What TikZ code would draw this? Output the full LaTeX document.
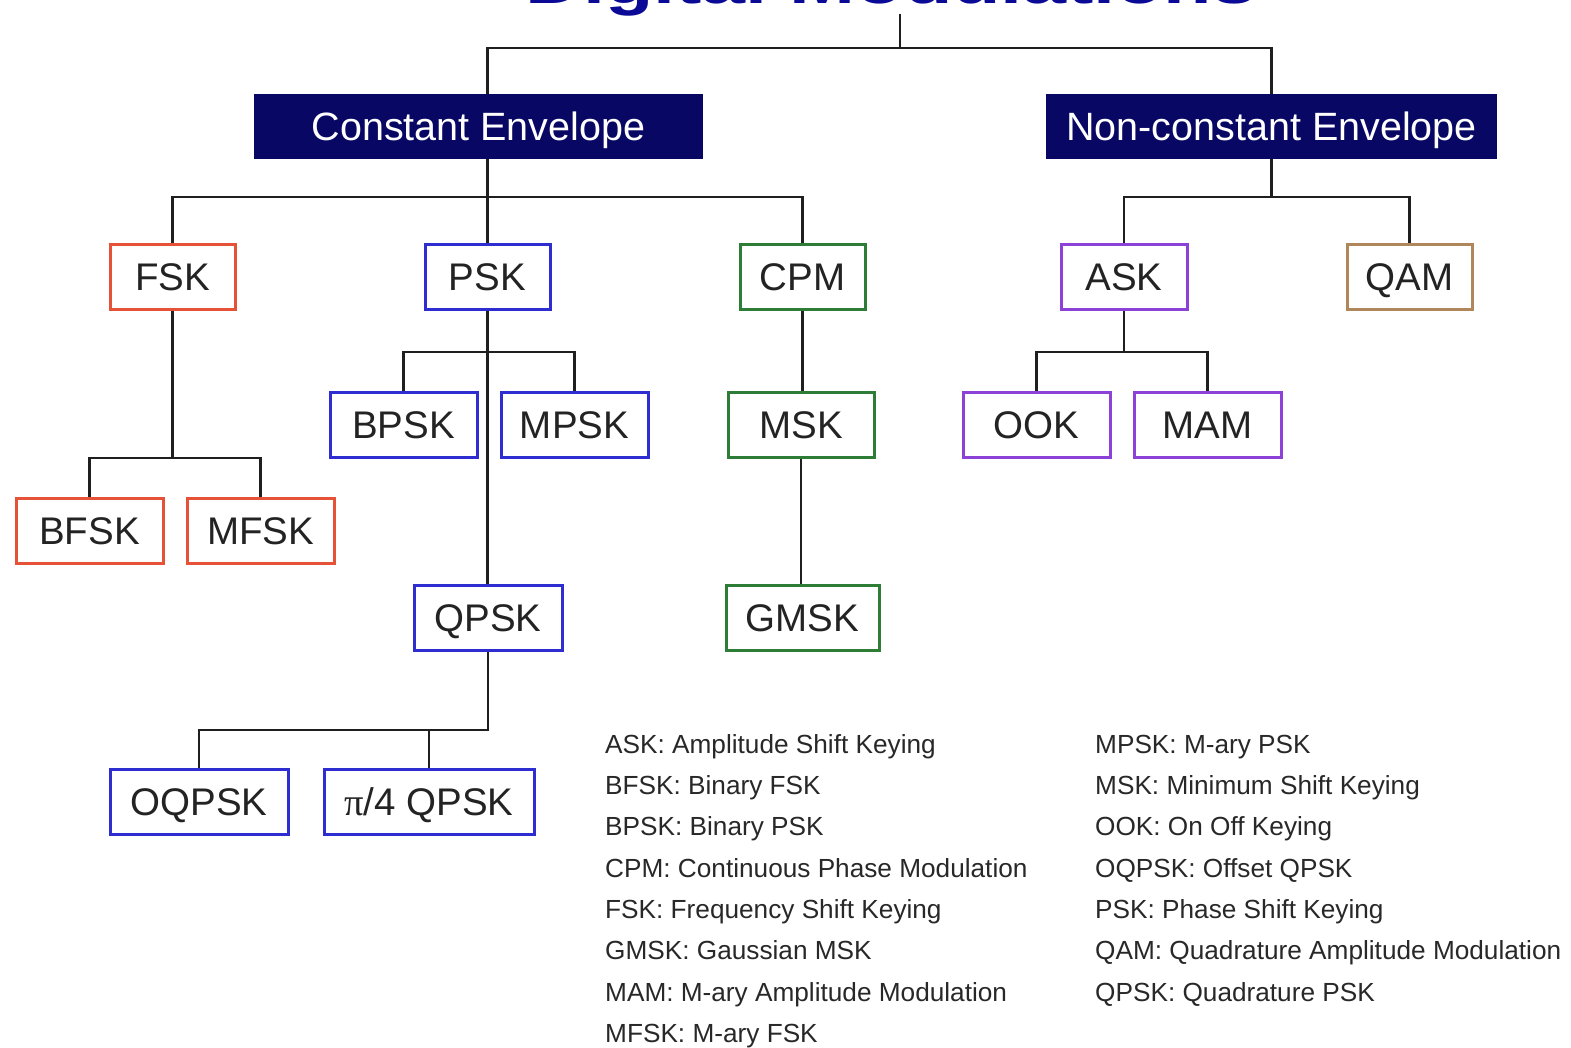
\documentclass[tikz,border=0pt]{standalone}
\usepackage{fontspec}
\setmainfont{Liberation Sans}
\newfontfamily\serifpi{Liberation Serif}
\definecolor{navy}{RGB}{8,8,100}
\definecolor{titleblue}{RGB}{10,10,150}
\definecolor{cred}{RGB}{230,82,56}
\definecolor{cblue}{RGB}{45,45,210}
\definecolor{cgreen}{RGB}{45,125,55}
\definecolor{cpurple}{RGB}{140,65,215}
\definecolor{ctan}{RGB}{175,135,90}
\definecolor{txt}{RGB}{35,35,35}
\definecolor{legtxt}{RGB}{40,40,40}
\begin{document}
\begin{tikzpicture}[x=1pt,y=-1pt,
  mbox/.style={draw, line width=3pt, minimum height=65pt, inner sep=0pt, text=txt, fill=white, text height=27.6pt, text depth=0pt, font=\fontsize{38.5}{40}\selectfont},
  envbox/.style={fill=navy, draw=none, minimum height=65pt, inner sep=0pt, text=white, text height=28.3pt, text depth=0pt, font=\fontsize{39.5}{42}\selectfont},
  conn/.style={line width=2.5pt, black!88},
  legend/.style={anchor=base west, inner sep=0pt, text=legtxt, font=\fontsize{26.2}{28}\selectfont}]
\fill[white] (0,0) rectangle (1571,1048);
\useasboundingbox (0,0) rectangle (1571,1048);

% title (cut off by the page edge, as in the reference)
\node[anchor=base, inner sep=0pt, xscale=1.32, text=titleblue, font=\bfseries\fontsize{60}{62}\selectfont] (title) at (891,3.5) {Digital Modulations};
\coordinate (root) at (900,14);

% envelope boxes
\node[envbox, minimum width=449pt] (CE) at (478.5,126.5) {Constant Envelope};
\node[envbox, minimum width=451pt] (NCE) at (1271.5,126.5) {Non-constant Envelope};

% first row
\node[mbox, draw=cred, minimum width=125pt] (FSK) at (172.5,277) {FSK};
\node[mbox, draw=cblue, minimum width=125pt] (PSK) at (487.5,277) {PSK};
\node[mbox, draw=cgreen, minimum width=125pt] (CPM) at (802.5,277) {CPM};
\node[mbox, draw=cpurple, minimum width=126pt] (ASK) at (1124,277) {ASK};
\node[mbox, draw=ctan, minimum width=125pt] (QAM) at (1409.5,277) {QAM};

% second row
\node[mbox, draw=cblue, minimum width=147pt] (BPSK) at (403.5,424.5) {BPSK};
\node[mbox, draw=cblue, minimum width=147pt] (MPSK) at (574.5,424.5) {MPSK};
\node[mbox, draw=cgreen, minimum width=146pt] (MSK) at (801,424.5) {MSK};
\node[mbox, draw=cpurple, minimum width=147pt] (OOK) at (1036.5,424.5) {OOK};
\node[mbox, draw=cpurple, minimum width=147pt] (MAM) at (1207.5,424.5) {MAM};

\node[mbox, draw=cred, minimum width=147pt] (BFSK) at (89.5,530.5) {BFSK};
\node[mbox, draw=cred, minimum width=147pt] (MFSK) at (260.5,530.5) {MFSK};

\node[mbox, draw=cblue, minimum width=148pt] (QPSK) at (488,617.5) {QPSK};
\node[mbox, draw=cgreen, minimum width=153pt] (GMSK) at (802.5,617.5) {GMSK};

\node[mbox, draw=cblue, minimum width=178pt] (OQPSK) at (199,802) {OQPSK};
\node[mbox, draw=cblue, minimum width=210pt] (PI4) at (429,802) {{\serifpi π}/4 QPSK};

% bus levels
\coordinate (b0) at (0,48);
\coordinate (b1) at (0,197);
\coordinate (b2) at (0,352);
\coordinate (b3) at (0,458);
\coordinate (b4) at (0,730);

% connectors
\draw[conn] (root) -- (root |- b0);
\draw[conn] (CE.north -| PSK.north) -- (PSK.north |- b0) -- (NCE.north |- b0) -- (NCE.north);
\draw[conn] (CE.south -| PSK.north) -- (PSK.north);
\draw[conn] (FSK.north) -- (FSK.north |- b1) -- (CPM.north |- b1) -- (CPM.north);
\draw[conn] (NCE.south) -- (NCE.south |- b1);
\draw[conn] (ASK.north) -- (ASK.north |- b1) -- (QAM.north |- b1) -- (QAM.north);
\draw[conn] (PSK.south) -- (PSK.south |- QPSK.north);
\draw[conn] (BPSK.north) -- (BPSK.north |- b2) -- (MPSK.north |- b2) -- (MPSK.north);
\draw[conn] (ASK.south) -- (ASK.south |- b2);
\draw[conn] (OOK.north) -- (OOK.north |- b2) -- (MAM.north |- b2) -- (MAM.north);
\draw[conn] (FSK.south) -- (FSK.south |- b3);
\draw[conn] (BFSK.north) -- (BFSK.north |- b3) -- (MFSK.north |- b3) -- (MFSK.north);
\draw[conn] (QPSK.south) -- (QPSK.south |- b4) -- (OQPSK.north |- b4) -- (OQPSK.north);
\draw[conn] (PI4.north) -- (PI4.north |- b4);
\draw[conn] (CPM.south) -- (CPM.south |- MSK.north);
\draw[conn] (MSK.south) -- (MSK.south |- GMSK.north);

% legend
\node[legend] (l1) at (605,753) {ASK: Amplitude Shift Keying};
\node[legend] (l2) at (605,794.4) {BFSK: Binary FSK};
\node[legend] (l3) at (605,835.7) {BPSK: Binary PSK};
\node[legend] (l4) at (605,877.1) {CPM: Continuous Phase Modulation};
\node[legend] (l5) at (605,918.4) {FSK: Frequency Shift Keying};
\node[legend] (l6) at (605,959.8) {GMSK: Gaussian MSK};
\node[legend] (l7) at (605,1001.1) {MAM: M-ary Amplitude Modulation};
\node[legend] (l8) at (605,1042.5) {MFSK: M-ary FSK};
\node[legend] (r1) at (1095,753) {MPSK: M-ary PSK};
\node[legend] (r2) at (1095,794.4) {MSK: Minimum Shift Keying};
\node[legend] (r3) at (1095,835.7) {OOK: On Off Keying};
\node[legend] (r4) at (1095,877.1) {OQPSK: Offset QPSK};
\node[legend] (r5) at (1095,918.4) {PSK: Phase Shift Keying};
\node[legend] (r6) at (1095,959.8) {QAM: Quadrature Amplitude Modulation};
\node[legend] (r7) at (1095,1001.1) {QPSK: Quadrature PSK};
\end{tikzpicture}
\end{document}
